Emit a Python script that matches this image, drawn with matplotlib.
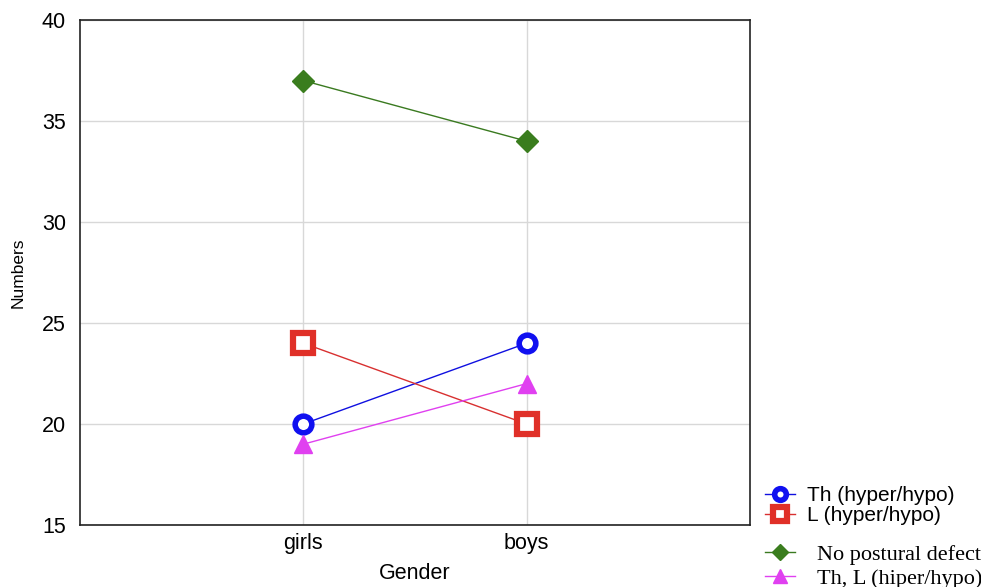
import matplotlib
matplotlib.use("Agg")
from matplotlib import pyplot as plt

plt.rcParams['font.family'] = ['Liberation Sans', 'DejaVu Sans']

genders = ['girls', 'boys']
th_hyper = [20, 24]
l_hyper = [24, 20]
no_defect = [37, 34]
th_l_hiper = [19, 22]
y_ticks = [15, 20, 25, 30, 35, 40]

fig = plt.figure(figsize=(9.81, 5.87), dpi=100)
ax = fig.add_axes([0.0815, 0.1056, 0.683, 0.8604])

x = range(len(genders))

h1, = ax.plot(x, th_hyper, color='#1010e0', lw=1, marker='o', ms=12,
              mfc='white', mec='#1010f0', mew=4, zorder=3)
h2, = ax.plot(x, l_hyper, color='#d83030', lw=1, marker='s', ms=14,
              mfc='white', mec='#e03028', mew=4.5, zorder=3)
h3, = ax.plot(x, no_defect, color='#3a7a20', lw=1, marker='D', ms=11,
              mfc='#3a7d1e', mec='#3a7d1e', mew=1, zorder=3)
h4, = ax.plot(x, th_l_hiper, color='#e040f0', lw=1, marker='^', ms=13,
              mfc='#e040f0', mec='#e040f0', mew=1, zorder=3)

ax.set_xlim(-1, 2)
ax.set_ylim(15, 40)
ax.set_xticks(list(x))
ax.set_xticklabels(genders)
ax.set_yticks(y_ticks)
ax.grid(True, color='#d8d8d8', lw=1)
ax.set_axisbelow(True)
ax.tick_params(axis='both', labelsize=15.5, length=0)
ax.tick_params(axis='y', pad=10)
ax.tick_params(axis='x', pad=6)
for s in ax.spines.values():
    s.set_linewidth(1.2)
    s.set_color('#222222')

# the original label is a condensed face; a smaller size keeps its length
ax.set_ylabel('Numbers', fontsize=12.5, labelpad=12)
ax.set_xlabel('Gender', fontsize=15.5, labelpad=6)

leg1 = fig.legend([h1, h2], ['Th (hyper/hypo)', 'L (hyper/hypo)'],
                  loc='upper left', bbox_to_anchor=(0.780, 0.172),
                  frameon=False, handlelength=1.44, markerscale=0.7,
                  handletextpad=0.58, labelspacing=0.05, borderpad=0,
                  borderaxespad=0,
                  prop={'family': 'Liberation Sans', 'size': 15})
leg2 = fig.legend([h3, h4], ['No postural defect', 'Th, L (hiper/hypo)'],
                  loc='upper left', bbox_to_anchor=(0.780, 0.073),
                  frameon=False, handlelength=1.35, markerscale=0.75,
                  handletextpad=1.0, labelspacing=0.15, borderpad=0,
                  borderaxespad=0,
                  prop={'family': 'Liberation Serif', 'size': 16})

fig.savefig('out.png', dpi=100)
